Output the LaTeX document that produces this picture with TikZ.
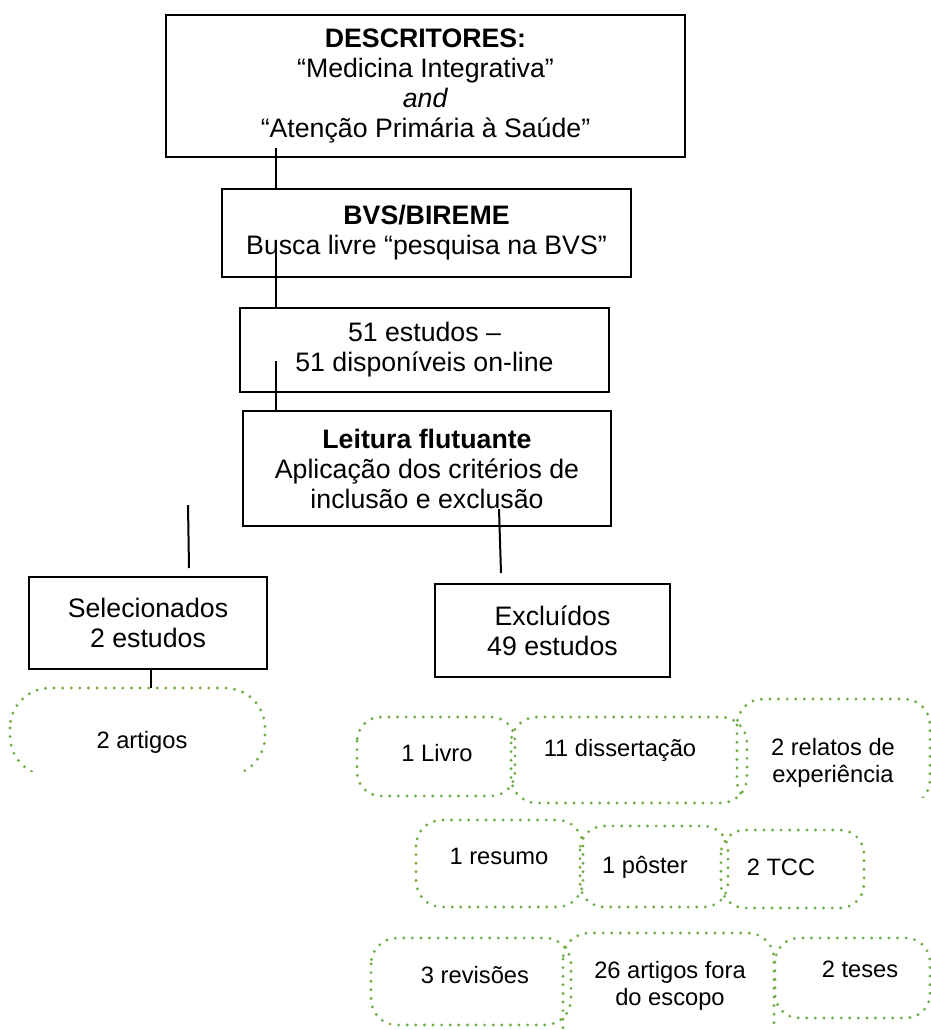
\documentclass[tikz,border=0pt]{standalone}
\usepackage{fontspec}
\setmainfont{Liberation Sans}
\usepackage{xcolor}
\usepackage{tikz}
\usetikzlibrary{positioning, calc}

\definecolor{dotgreen}{RGB}{112,173,71}

\begin{document}
\begin{tikzpicture}[
    x=0.5pt, y=-0.5pt,
    every node/.style={font=\fontsize{13.35}{15}\selectfont},
    box/.style={draw, rectangle, align=center, line width=1pt, inner sep=0pt},
    item/.style={align=center, inner sep=0pt, font=\fontsize{11.85}{13.8}\selectfont},
    dotbox/.style={draw=dotgreen, line width=1.6pt, dash pattern=on 0pt off 4.3pt, line cap=round, rounded corners=#1},
    dotbox/.default=12pt,
    link/.style={line width=1pt}
]
    \useasboundingbox (0,0) rectangle (931,1030);
    \clip (0,0) rectangle (931,1030);

    % Search chain
    \node[box, minimum width=259.5pt, minimum height=71pt] (desc) at (425.5,86)
        {\textbf{DESCRITORES:}\\“Medicina Integrativa”\\\textit{and}\\“Atenção Primária à Saúde”};
    \node[box, minimum width=204.5pt, minimum height=44pt] (bvs) at (426.5,233)
        {\textbf{BVS/BIREME}\\Busca livre “pesquisa na BVS”};
    \node[box, minimum width=184.5pt, minimum height=42pt] (estudos) at (424.5,350)
        {51 estudos –\\51 disponíveis on-line};
    \node[box, minimum width=184pt, minimum height=57.5pt] (leitura) at (427,468.5)
        {\textbf{Leitura flutuante}\\Aplicação dos critérios de\\inclusão e exclusão};

    \coordinate (a1) at (276,148);
    \coordinate (a2) at (276,252);
    \coordinate (a3) at (276,361);
    \draw[link] (a1) -- (a1 |- bvs.north);
    \draw[link] (a2) -- (a2 |- estudos.north);
    \draw[link] (a3) -- (a3 |- leitura.north);

    % Split
    \node[box, minimum width=119pt, minimum height=46pt] (sel) at (148,623)
        {Selecionados\\2 estudos};
    \node[box, minimum width=117.5pt, minimum height=46.5pt] (exc) at (552.5,630.5)
        {Excluídos\\49 estudos};

    \coordinate (s1) at (188,505);
    \coordinate (s2) at (189,568);
    \coordinate (e1) at (499,509);
    \coordinate (e2) at (501,573);
    \draw[link] (s1) -- (s2);
    \draw[link] (e1) -- (e2);

    % Selected studies
    \coordinate (art) at (151,688);
    \draw[link] (sel.south -| art) -- (art);
    \begin{scope}
        \clip (0,680) rectangle (280,771);
        \draw[dotbox=20pt] (10,688) rectangle (265,776);
    \end{scope}
    \node[item] (artigos) at (142,742) {2 artigos};

    % Excluded studies, first row
    \draw[dotbox] (357,717) rectangle (515,796);
    \node[item] (livro) at (437,753) {1 Livro};
    \draw[dotbox=13pt] (511,717) rectangle (747,803);
    \node[item] (diss) at (620,750) {11 dissertação};
    \begin{scope}
        \clip (725,690) rectangle (931,797);
        \draw[dotbox=13pt] (737,699) rectangle (930,806);
    \end{scope}
    \node[item] (relatos) at (833,763) {2 relatos de\\experiência};

    % second row
    \draw[dotbox=13pt] (416,820) rectangle (583,907);
    \node[item] (resumo) at (499,856) {1 resumo};
    \draw[dotbox] (580,826) rectangle (728,907);
    \node[item] (poster) at (645,867) {1 pôster};
    \draw[dotbox] (721,830) rectangle (864,908);
    \node[item] (tcc) at (781,867) {2 TCC};

    % third row
    \draw[dotbox=13pt] (371,938) rectangle (571,1025);
    \node[item] (revisoes) at (475,975) {3 revisões};
    \draw[dotbox=13pt] (563,933) rectangle (774,1060);
    \node[item] (escopo) at (670,986) {26 artigos fora\\do escopo};
    \draw[dotbox] (775,938) rectangle (930,1018);
    \node[item] (teses) at (860,969) {2 teses};
\end{tikzpicture}
\end{document}
